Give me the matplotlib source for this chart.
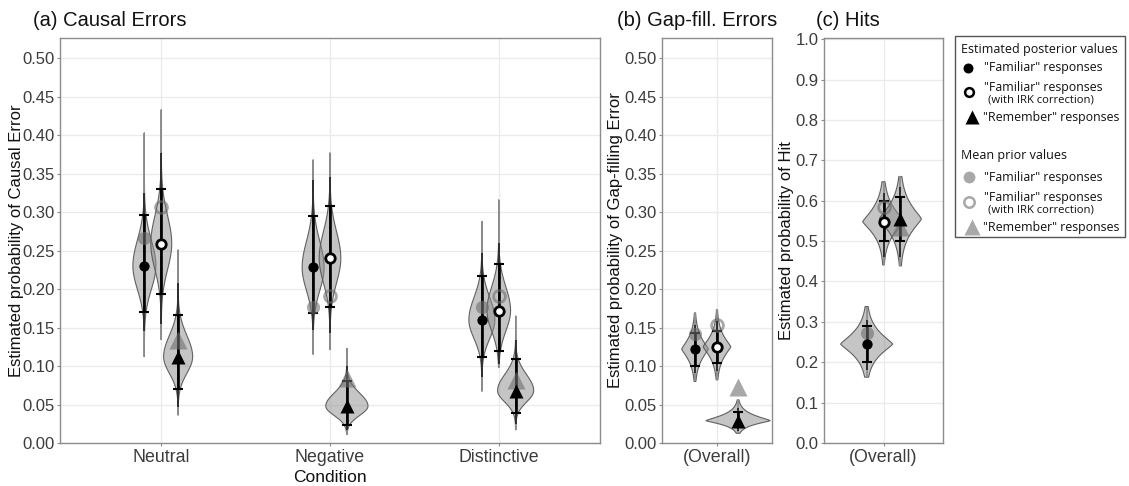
import numpy as np
import matplotlib
matplotlib.use("Agg")
import matplotlib.pyplot as plt
from matplotlib.lines import Line2D
from matplotlib.patches import Rectangle

W_PX, H_PX, DPI = 1129, 486, 100

# ---------------------------------------------------------------- data
causal_conditions = ["Neutral", "Negative", "Distinctive"]
overall_conditions = ["(Overall)"]
# order inside each condition: "Familiar", "Familiar" (IRK correction), "Remember"
causal_point = [[0.230, 0.259, 0.112], [0.228, 0.240, 0.048], [0.160, 0.172, 0.068]]
causal_prior = [[0.266, 0.306, 0.134], [0.176, 0.191, 0.085], [0.176, 0.191, 0.082]]
causal_ci_lo = [[0.170, 0.193, 0.070], [0.169, 0.177, 0.024], [0.112, 0.120, 0.039]]
causal_ci_hi = [[0.296, 0.330, 0.166], [0.295, 0.308, 0.081], [0.217, 0.232, 0.109]]
causal_in_lo = [[0.145, 0.155, 0.047], [0.147, 0.143, 0.017], [0.086, 0.103, 0.025]]
causal_in_hi = [[0.325, 0.377, 0.208], [0.342, 0.346, 0.100], [0.247, 0.260, 0.134]]
causal_min = [[0.112, 0.134, 0.036], [0.115, 0.121, 0.011], [0.067, 0.098, 0.017]]
causal_max = [[0.403, 0.433, 0.251], [0.368, 0.377, 0.123], [0.288, 0.316, 0.165]]

gap_point = [[0.122, 0.125, 0.029]]
gap_prior = [[0.142, 0.153, 0.073]]
gap_ci_lo = [[0.1005, 0.1036, 0.021]]
gap_ci_hi = [[0.1435, 0.146, 0.040]]
gap_in_lo = [[0.091, 0.094, 0.016]]
gap_in_hi = [[0.153, 0.158, 0.046]]
gap_min = [[0.080, 0.082, 0.0126]]
gap_max = [[0.169, 0.173, 0.056]]

hit_point = [[0.245, 0.548, 0.555]]
hit_prior = [[0.272, 0.585, 0.536]]
hit_ci_lo = [[0.2015, 0.501, 0.501]]
hit_ci_hi = [[0.2906, 0.600, 0.610]]
hit_in_lo = [[0.180, 0.4615, 0.460]]
hit_in_hi = [[0.305, 0.6185, 0.635]]
hit_min = [[0.163, 0.441, 0.4385]]
hit_max = [[0.338, 0.647, 0.660]]

causal_yticks = [0.00, 0.05, 0.10, 0.15, 0.20, 0.25, 0.30, 0.35, 0.40, 0.45, 0.50]
hit_yticks = [0.0, 0.1, 0.2, 0.3, 0.4, 0.5, 0.6, 0.7, 0.8, 0.9, 1.0]

# ---------------------------------------------------------------- style
FONT = ["Liberation Sans", "DejaVu Sans"]
LEG_FONT = ["Open Sans", "DejaVu Sans"]
plt.rcParams["font.family"] = FONT

VIOLIN_FACE = (0.55, 0.55, 0.55, 0.5)
VIOLIN_EDGE = (0.33, 0.33, 0.33, 0.9)
PRIOR_COL = "#6e6e6e"
PRIOR_ALPHA = 0.6
BORDER = "#8c8c8c"
GRID = "#ebebeb"
TICKLAB = "#3c3c3c"

fig = plt.figure(figsize=(W_PX / DPI, H_PX / DPI), dpi=DPI)


def px_axes(left, top, right, bottom):
    return fig.add_axes([left / W_PX, 1 - bottom / H_PX,
                         (right - left) / W_PX, (bottom - top) / H_PX])


def draw_panel(ax, cats, point, prior, ci_lo, ci_hi, in_lo, in_hi, vmin, vmax,
               offsets, halfw, shape_p, ylim, yticks, ylabel, ytickfmt, ylab_x):
    for i in range(len(cats)):
        x0 = i + 1
        for j in range(3):
            x = x0 + offsets[j]
            m = point[i][j]
            s_lo = (m - ci_lo[i][j]) / 1.96
            s_hi = (ci_hi[i][j] - m) / 1.96
            y = np.linspace(vmin[i][j], vmax[i][j], 500)
            d = np.where(y < m, (m - y) / s_lo, (y - m) / s_hi)
            w = halfw[i][j] * np.exp(-0.5 * d ** shape_p)
            ax.fill(np.concatenate([x - w, (x + w)[::-1]]),
                    np.concatenate([y, y[::-1]]),
                    facecolor=VIOLIN_FACE, edgecolor=VIOLIN_EDGE, lw=0.8, zorder=2)
    for i in range(len(cats)):
        x0 = i + 1
        for j in range(3):
            x = x0 + offsets[j]
            ax.plot([x, x], [vmin[i][j], vmax[i][j]], color="#8f8f8f", lw=1.3,
                    solid_capstyle="butt", zorder=3)
            ax.plot([x, x], [in_lo[i][j], in_hi[i][j]], color="#1e1e1e", lw=1.2,
                    solid_capstyle="butt", zorder=3.5)
            ax.errorbar([x], [point[i][j]],
                        yerr=[[point[i][j] - ci_lo[i][j]], [ci_hi[i][j] - point[i][j]]],
                        fmt="none", ecolor="black", elinewidth=1.9, capsize=3.3,
                        capthick=1.5, zorder=4)
            # prior values
            p = prior[i][j]
            if j == 0:
                ax.plot(x, p, "o", ms=9.5, color=PRIOR_COL, mec="none",
                        alpha=PRIOR_ALPHA, zorder=5)
            elif j == 1:
                ax.plot(x, p, "o", ms=8.5, mfc="none", mec=PRIOR_COL, mew=2.0,
                        alpha=PRIOR_ALPHA, zorder=5)
            else:
                ax.plot(x, p, "^", ms=12.5, color=PRIOR_COL, mec="none",
                        alpha=PRIOR_ALPHA, zorder=5)
            # posterior values
            v = point[i][j]
            if j == 0:
                ax.plot(x, v, "o", ms=7.4, color="black", mec="none", zorder=6)
            elif j == 1:
                ax.plot(x, v, "o", ms=6.8, mfc="white", mec="black", mew=2.0, zorder=6)
            else:
                ax.plot(x, v, "^", ms=10, color="black", mec="none", zorder=6)

    ax.set_xlim(0.4, len(cats) + 0.6)
    ax.set_ylim(*ylim)
    ax.set_xticks(range(1, len(cats) + 1))
    ax.set_xticklabels(cats)
    ax.set_yticks(yticks)
    ax.set_yticklabels([ytickfmt.format(t) for t in yticks])
    ax.grid(True, color=GRID, lw=1.0)
    ax.set_axisbelow(True)
    for sp in ax.spines.values():
        sp.set_color(BORDER)
        sp.set_linewidth(1.0)
    ax.tick_params(axis="y", length=2.2, width=0.8, color=BORDER, pad=1.5,
                   labelsize=12, labelcolor=TICKLAB)
    ax.tick_params(axis="x", length=2.2, width=0.8, color=BORDER, pad=2,
                   labelsize=12.8, labelcolor=TICKLAB)
    ax.set_ylabel(ylabel, fontsize=12, color="#111111")
    ax.yaxis.set_label_coords(ylab_x, 0.5)


# panel (a)
ax_a = px_axes(60, 38, 600, 443)
draw_panel(ax_a, causal_conditions, causal_point, causal_prior, causal_ci_lo, causal_ci_hi,
           causal_in_lo, causal_in_hi, causal_min, causal_max,
           offsets=[-0.1, 0.0, 0.1],
           halfw=[[0.068, 0.062, 0.086], [0.065, 0.064, 0.125], [0.077, 0.070, 0.107]],
           shape_p=2.0, ylim=(0, 0.526), yticks=causal_yticks,
           ylabel="Estimated probability of Causal Error", ytickfmt="{:.2f}",
           ylab_x=(24 - 60) / 540)
ax_a.set_xlabel("Condition", fontsize=12.5, color="#111111", labelpad=3)

# panel (b)
ax_b = px_axes(662, 38, 772, 443)
draw_panel(ax_b, overall_conditions, gap_point, gap_prior, gap_ci_lo, gap_ci_hi,
           gap_in_lo, gap_in_hi, gap_min, gap_max,
           offsets=[-0.24, 0.0, 0.23],
           halfw=[[0.145, 0.150, 0.35]],
           shape_p=1.25, ylim=(0, 0.526), yticks=causal_yticks,
           ylabel="Estimated probability of Gap-filling Error", ytickfmt="{:.2f}",
           ylab_x=(623 - 662) / 110)

# panel (c)
ax_c = px_axes(824, 38, 943, 443)
draw_panel(ax_c, overall_conditions, hit_point, hit_prior, hit_ci_lo, hit_ci_hi,
           hit_in_lo, hit_in_hi, hit_min, hit_max,
           offsets=[-0.17, 0.0, 0.17],
           halfw=[[0.262, 0.209, 0.212]],
           shape_p=1.25, ylim=(0, 1.003), yticks=hit_yticks,
           ylabel="Estimated probability of Hit", ytickfmt="{:.1f}",
           ylab_x=(794 - 824) / 119)

# panel titles
for x, txt in [(33, "(a) Causal Errors"), (617, "(b) Gap-fill. Errors"), (816, "(c) Hits")]:
    fig.text(x / W_PX, 1 - 21 / H_PX, txt, fontsize=14.5, va="center", ha="left",
             color="#111111")

# ---------------------------------------------------------------- legend (drawn by hand)
def fx(x):
    return x / W_PX


def fy(y):
    return 1 - y / H_PX


fig.add_artist(Rectangle((fx(955), fy(237)), fx(1125) - fx(955), fy(36) - fy(237),
                         transform=fig.transFigure, facecolor="white",
                         edgecolor="#555555", lw=1.0))


def leg_marker(x, y, **kw):
    fig.add_artist(Line2D([fx(x)], [fy(y)], transform=fig.transFigure, ls="none", **kw))


def leg_text(x, y, s, size=8.9):
    fig.text(fx(x), fy(y), s, fontsize=size, va="center", ha="left",
             family=LEG_FONT, color="#111111")


leg_text(961, 50, "Estimated posterior values", 9.0)
leg_marker(968, 68, marker="o", ms=7.2, color="black", mec="none")
leg_text(984, 68, '"Familiar" responses')
leg_marker(969, 92, marker="o", ms=6.3, mfc="white", mec="black", mew=1.8)
leg_text(984, 87, '"Familiar" responses')
leg_text(988, 99.5, "(with IRK correction)", 8.1)
leg_marker(972, 117, marker="^", ms=9.5, color="black", mec="none")
leg_text(983, 117, '"Remember" responses')

leg_text(961, 155, "Mean prior values", 9.0)
leg_marker(969, 177, marker="o", ms=8.5, color=PRIOR_COL, mec="none", alpha=PRIOR_ALPHA)
leg_text(984, 177, '"Familiar" responses')
leg_marker(969, 202, marker="o", ms=7.5, mfc="none", mec=PRIOR_COL, mew=1.8,
           alpha=PRIOR_ALPHA)
leg_text(984, 197, '"Familiar" responses')
leg_text(988, 209.5, "(with IRK correction)", 8.1)
leg_marker(972, 227, marker="^", ms=11.5, color=PRIOR_COL, mec="none", alpha=PRIOR_ALPHA)
leg_text(983, 228, '"Remember" responses')

fig.savefig("out.png", dpi=DPI)
